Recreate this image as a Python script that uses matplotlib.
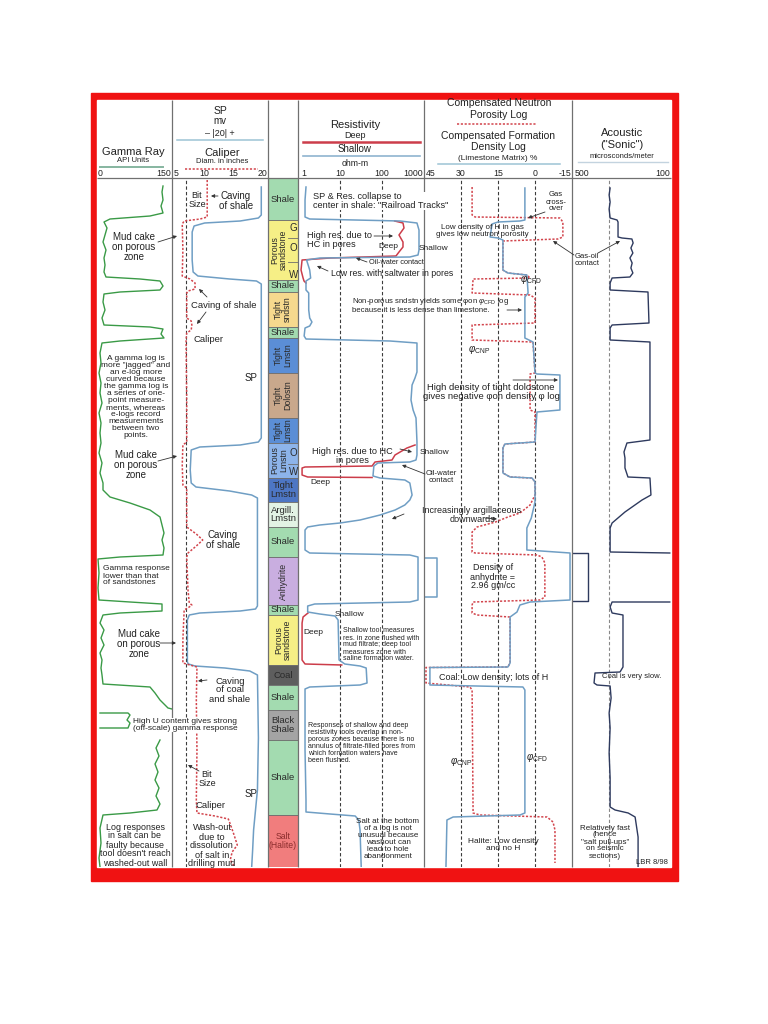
import numpy as np
import matplotlib.pyplot as plt
from matplotlib.patches import Rectangle

plt.rcParams['font.family'] = ['Liberation Sans', 'DejaVu Sans']
plt.rcParams['mathtext.fontset'] = 'custom'
plt.rcParams['mathtext.rm'] = 'Liberation Sans'
plt.rcParams['mathtext.it'] = 'Liberation Sans:italic'

nan = np.nan

# ---------------- data (depth = ft below top of logged interval) ----------------
lith_top = [0, 42, 102, 114, 149, 160, 195, 240, 265, 300, 324, 349, 379, 427, 437, 487, 507, 532, 562, 637]
lith_base = [42, 102, 114, 149, 160, 195, 240, 265, 300, 324, 349, 379, 427, 437, 487, 507, 532, 562, 637, 689]
lith_name = ['Shale', 'Porous\nsandstone', 'Shale', 'Tight\nsndstn', 'Shale', 'Tight\nLmstn',
             'Tight\nDolostn', 'Tight\nLmstn', 'Porous\nLmstn', 'Tight\nLmstn', 'Argill.\nLmstn',
             'Shale', 'Anhydrite', 'Shale', 'Porous\nsandstone', 'Coal', 'Shale', 'Black\nShale',
             'Shale', 'Salt\n(Halite)']
lith_color = ['#a3dbb0', '#f6ef86', '#a3dbb0', '#f6d98e', '#a3dbb0', '#5b8ed6', '#c9a88c',
              '#5b8ed6', '#8db4ea', '#4d76c4', '#e3f3e5', '#a3dbb0', '#c9aee0', '#a3dbb0',
              '#f6ef86', '#5e5e5e', '#a3dbb0', '#a4a4a4', '#a3dbb0', '#f17d7d']
lith_rot = [0, 90, 0, 90, 0, 90, 90, 90, 90, 0, 0, 0, 90, 0, 90, 0, 0, 0, 0, 0]
fluid_depth = [50, 70, 97, 275, 294]
fluid_label = ['G', 'O', 'W', 'O', 'W']
contact_depth = [60, 84, 286]

# gamma ray, API
gr_depth = [8, 14, 22, 28, 35, 38, 41, 44, 50, 57, 64, 72, 80, 87, 94, 99, 101, 103, 108, 112,
            114, 116, 124, 132, 140, 147, 149, 151, 156, 160, 163, 165, 175, 185, 195, 205, 215,
            225, 235, 245, 255, 265, 275, 285, 295, 305, 312, 319, 325, 332, 339, 347, 355, 362,
            370, 377, 379, 381, 395, 410, 422, 424, 426, 433, 435, 437, 445, 452, 460, 467, 475,
            482, 490, 497, 506, 509, 515, 522, 530, 531, nan, 535, 535, 537, 542, 545, 550, 550,
            nan, 562, 570, 578, 586, 594, 602, 610, 618, 626, 632, 635, 637, 650, 665, 680, 689]
gr_api = [132, 130, 132, 128, 132, 106, 26, 14, 20, 16, 12, 18, 14, 16, 14, 18, 86, 126, 132, 126,
          46, 14, 12, 16, 10, 14, 106, 132, 128, 134, 46, 10, 6, 8, 4, 8, 6,
          10, 4, 8, 6, 8, 4, 10, 6, 12, 12, 26, 66, 106, 126, 130, 134, 130,
          134, 132, 46, 2, 4, 2, 4, 66, 130, 130, 46, 12, 6, 14, 8, 14, 6,
          10, 8, 10, 12, 106, 116, 126, 142, 150, nan, 6, 62, 66, 60, 66, 62, 6,
          nan, 126, 118, 124, 116, 122, 116, 124, 118, 126, 120, 66, 12, 6, 8, 4, 6]

# spontaneous potential, mV
sp_depth = [9, 37, 40, 43, 45, 48, 54, 82, 94, 98, 101, 103, 106, 260, 264, 267, 269, 272, 292,
            305, 309, 313, 317, 320, 428, 431, 433, 435, 437, 442, 484, 486, 488, 490, 493, 497,
            560, 612, 632, 652, 672, 689]
sp_mv = [-7, -7, -10, -29, -66, -77, -79, -79, -78, -73, -40, -12, -7, -7, -10, -29, -71, -80, -81,
         -80, -75, -40, -17, -11, -11, -13, -29, -71, -82, -84, -84, -83, -76, -45, -19, -11,
         -10, -11, -13, -15, -16, -17]

# caliper, inches
cal_depth = [2, 39, 41, 43, 46, 72, 98, 101, 105, 111, 113, 115, 140, 143, 147, 152, 155, 162, 222,
             264, 267, 287, 307, 310, 349, 356, 362, 368, 375, 379, 412, 425, 427, 429, 432, 462,
             485, 487, 489, 522, 572, 622, 635, 638, 641, 646, 657, 667, 674, 682, 689]
cal_in = [10.5, 10.5, 9.4, 6.9, 6.6, 6.7, 6.6, 7.8, 8.6, 8.6, 7.5, 7.3, 7.3, 8.0, 8.1, 8.0, 7.3, 7.2, 7.3,
          7.3, 6.7, 6.6, 6.7, 7.3, 7.3, 8.8, 9.8, 8.8, 7.5, 7.3, 7.5, 7.7, 8.1, 7.7, 6.9, 6.7,
          6.7, 7.8, 8.9, 8.8, 8.9, 8.8, 8.9, 11.7, 13.8, 14.1, 14.7, 15.2, 14.4, 14.1, 14.8]
bit_size = 7.2

# shallow resistivity, ohm-m
rs_depth = [9, 22, 39, 41, 43, 45, 52, 72, 77, 79, 80, 82, 92, 100, 103, 112, 115, 132, 140, 144,
            148, 150, 158, 161, 163, 165, 194, 200, 207, 222, 232, 240, 264, 277, 282, 284, 285,
            288, 298, 300, 302, 305, 317, 322, 327, 332, 337, 342, 345, 347, 349, 352, 372, 375,
            377, 379, 422, 424, 426, 428, 434, 436, 438, 442, 482, 486, 488, 490, 505, 507, 509,
            511, 572, 622, 634, 636, 638, 642, 652, 689]
rs_ohm = [1.55, 1.47, 1.47, 1.9, 270, 680, 760, 760, 720, 460, 3.3, 1.6, 1.9, 2.0, 1.55, 1.55, 1.8,
          1.8, 1.9, 2.15, 1.9, 1.47, 1.4, 1.55, 155, 680, 680, 610, 520, 490, 550, 645, 680, 680,
          645, 460, 80, 64, 61, 90, 350, 460, 520, 460, 350, 205, 90, 30, 10, 3.3, 1.7, 1.47,
          1.47, 1.9, 460, 720, 720, 460, 2.5, 1.7, 1.7, 3.3, 7.6, 9.0, 9.5, 13, 30, 42, 44, 30,
          1.9, 1.47, 1.47, 1.55, 1.55, 5.8, 23, 28, 30, 32]

# deep resistivity (only where it separates from shallow), ohm-m
rd_depth = [43, 45, 50, 57, 64, 69, 74, 78, 80, 82, 92, 100, 103, 105, nan,
            267, 270, 277, 282, 284, 288, 289, 290, 297, 299, 299.5, nan,
            435, 439, 445, 482, 486, 487]
rd_ohm = [200, 316, 334, 254, 316, 316, 254, 215, 5.8, 1.25, 1.18, 1.32, 1.39, 1.55, nan,
          611, 393, 204, 173, 68, 58, 1.47, 1.25, 1.25, 1.7, 58, nan,
          1.73, 1.32, 1.25, 1.25, 1.47, 11]

# density porosity (limestone matrix), %
den_depth = [10, 42, 43, 44, 46, 59, 60, 62, 92, 95, 97, 115, 119, 160, 164, 195, 196, 197, 232,
             234, 264, 265, 266, 270, 295, 299, 300, 304, 324, 340, 350, 372, 375, 422, 424, 427,
             434, 439, 485, 489, 489.5, 507, 509, 512, 635, 637, 639, 642, 689]
den_phi = [4.1, 4.1, 6.1, 15, 17.4, 18.2, 15, 13, 13, 11, 3.3, 2.8, 4.1, 4.1, 0.8, 0, -0.8, -10.1,
           -10.1, -0.8, 0, 6.1, 12.2, 13, 13, 10.1, 1.2, 0, 0, 1.5, 3.3, 3.3, -14.2, -14.2, 2,
           6.1, 7.3, 10.1, 10.1, 11, 42.6, 42.6, 4.9, 4.1, 4.1, 6.1, 33.2, 35.7, 36.1]
den_wrap_depth = [380, 380, 419, 419]
den_wrap_phi = [45, 39.7, 39.7, 45]

# neutron porosity (limestone matrix), %
neu_depth = [9, 37, 39, 40, 44, 59, 61, 62, 63, 92, 95, 97, 100, 101, 115, 117, 120, 145, 147,
             162, 164, 195, 196, 232, 234, 264, 265, 266, 270, 295, 299, 300, 304, 317, 327,
             335, 339, 344, 349, 354, 374, 375, 377, 379, 385, 419, 422, 424, 427, 435, 437,
             439, 485, 489, 489.5, 505, 509, 512, 635, 637, 639, 644, 652, 685]
neu_phi = [25.5, 25.5, 24.3, -10.1, -11.3, -11.3, -9.3, 2, 13, 13, 11, 3.3, 2, 25.1, 25.5, 2, 0,
           0, 25.5, 25.5, 0.8, 0, 2, 2, 0, 0, 6, 12.2, 13, 13, 10.1, 1.2, 0, 0, 2,
           6.1, 11, 16, 23.5, 25.5, 25.5, 24.3, -0.8, -2.8, -4, -4, -2, 25.1, 25.5, 25.5, 23.5,
           10.1, 10.1, 11, 44.2, 44.2, 26.4, 25.5, 25.1, 22.3, -4.9, -7.3, -8.1, -8.1]

# sonic transit time, microseconds/m
dt_depth = [10, 17, 24, 31, 40, 42, 44, 59, 60, 61, 65, 70, 75, 80, 85, 90, 95, 99, 100, 105,
            112, 114, 145, 147, 150, 162, 164, 262, 265, 274, 280, 290, 299, 300, 317, 322, 334,
            345, 350, 374, 375, nan, 424, 424, 429, 435, 437, 489, 494, 495, 505, 507, 508, 520,
            535, 550, 575, 600, 620, 629, 632, 635, 639, 659, 689]
dt_us = [346, 350, 346, 350, 346, 318, 314, 314, 298, 258, 253, 262, 254, 266, 257, 262, 254, 266,
         338, 346, 346, 193, 189, 338, 346, 346, 185, 185, 278, 290, 286, 286, 274, 185, 181,
         217, 286, 338, 346, 346, 105, nan, 105, 338, 346, 338, 294, 294, 306, 407, 411, 399,
         346, 342, 350, 346, 350, 346, 346, 346, 326, 273, 245, 233, 233]
dt_wrap_depth = [375, 375, 423, 423]
dt_wrap_us = [500, 435, 435, 500]

# ---------------- layout ----------------
W, H = 768, 1024
TOP, BOT = 178, 867
DMAX = BOT - TOP

fig = plt.figure(figsize=(W / 100, H / 100), dpi=100)

bg = fig.add_axes([0, 0, 1, 1], zorder=0)
bg.set_xlim(0, W)
bg.set_ylim(H, 0)
bg.axis('off')
bg.add_patch(Rectangle((91, 93), 587, 788, color='#f01212'))
bg.add_patch(Rectangle((97, 100), 574, 767, color='white'))


def track(x0, x1, xlim, log=False):
    ax = fig.add_axes([x0 / W, 1 - BOT / H, (x1 - x0) / W, (BOT - TOP) / H], zorder=2)
    if log:
        ax.set_xscale('log')
    ax.set_xlim(*xlim)
    ax.set_ylim(DMAX, 0)
    ax.axis('off')
    return ax


grid = dict(color='#3c3c3c', lw=0.8, ls=(0, (3, 2)), zorder=1)
dotted_red = dict(color='#d2444c', lw=1.1, ls=(0, (1.4, 1.1)))
blue = '#6f9ec4'

# gamma ray
gr_ax = track(97, 172, (0, 150))
gr_ax.plot(gr_api, gr_depth, color='#3a9a46', lw=1.0)

# SP + caliper
sp_ax = track(172, 268, (-100, 0))
sp_ax.plot(sp_mv, sp_depth, color=blue, lw=1.1)
cal_ax = sp_ax.twiny()
cal_ax.set_xlim(5, 20)
cal_ax.set_ylim(DMAX, 0)
cal_ax.axis('off')
cal_ax.axvline(bit_size, **grid)
cal_ax.plot(cal_in, cal_depth, **dotted_red)

# lithology column
li_ax = track(268, 298, (0, 1))
heights = [b - t for t, b in zip(lith_top, lith_base)]
li_ax.barh(lith_top, 1, height=heights, left=0, align='edge', color=lith_color,
           edgecolor='#6e6e6e', lw=0.6)
for t, b, name, rot, c in zip(lith_top, lith_base, lith_name, lith_rot, lith_color):
    xpos = 0.5
    if rot and name.startswith('Porous') and t < 400:
        xpos = 0.38
    tc = '#8a2c2c' if name.startswith('Salt') else '#2a2a2a'
    fs = 6.8 if rot == 0 else 6.3
    if name.startswith('Salt'):
        fs = 6.2
    li_ax.text(xpos, (t + b) / 2, name, rotation=rot, ha='center', va='center',
               fontsize=fs, color=tc, linespacing=0.95)
for d, lab in zip(fluid_depth, fluid_label):
    li_ax.text(0.84, d, lab, ha='center', va='center', fontsize=7, color='#2a2a2a')
for d in contact_depth:
    li_ax.plot([0.68, 1.0], [d, d], color='#6e6e6e', lw=0.6)

# resistivity
res_ax = track(298, 424, (1, 1000), log=True)
for v in (10, 100):
    res_ax.axvline(v, **grid)
res_ax.plot(rd_ohm, rd_depth, color='#cc3d4a', lw=1.1)
res_ax.plot(rs_ohm, rs_depth, color=blue, lw=1.1)

# neutron / density
nd_ax = track(424, 572, (45, -15))
for v in (30, 15, 0):
    nd_ax.axvline(v, **grid)
nd_ax.plot(neu_phi, neu_depth, **dotted_red)
nd_ax.plot(den_phi, den_depth, color=blue, lw=1.1)
nd_ax.plot(den_wrap_phi, den_wrap_depth, color=blue, lw=1.1)

# sonic
so_ax = track(572, 671, (500, 100))
so_ax.axvline(350, color='#888888', lw=0.8, ls=(0, (3, 2)), zorder=1)
so_ax.plot(dt_us, dt_depth, color='#2e3a5e', lw=1.0)
so_ax.plot(dt_wrap_us, dt_wrap_depth, color='#2e3a5e', lw=1.0)

# ---------------- overlay: borders, header, notes ----------------
ov = fig.add_axes([0, 0, 1, 1], zorder=5)
ov.set_xlim(0, W)
ov.set_ylim(H, 0)
ov.axis('off')
ov.patch.set_visible(False)

ov.vlines([172, 268, 298, 424, 572], 100, BOT, color='#707070', lw=0.9)
ov.hlines(TOP - 0.5, 97, 671, color='#707070', lw=0.9)


def t(x, y, s, fs=7.5, ha='center', **kw):
    ov.text(x, y, s, fontsize=fs, ha=ha, va='center', color='#222222', linespacing=1.0, **kw)


# header
t(133, 152, 'Gamma Ray', 8)
t(133, 160.5, 'API Units', 5.5)
ov.plot([100, 163], [167, 167], color='#86b5a0', lw=1.4)
t(98, 174, '0', 6.3, 'left')
t(171, 174, '150', 6.3, 'right')

t(220, 110.5, 'SP', 7.5)
t(220, 121.5, 'mv', 7)
t(220, 133, '– |20| +', 6.5)
ov.plot([177, 263], [139.5, 139.5], color='#9cc3d5', lw=1.1)
t(222, 152.5, 'Caliper', 8)
t(222, 161.5, 'Diam. in inches', 5.5)
ov.plot([185, 258], [169, 169], **dotted_red)
t(174, 174, '5', 6.3, 'left')
t(204, 174, '10', 6.3)
t(233, 174, '15', 6.3)
t(267, 174, '20', 6.3, 'right')

t(355, 125, 'Resistivity', 8)
t(355, 135.5, 'Deep', 6.5)
ov.plot([303, 420], [142, 142], color='#cc3d4a', lw=1.8)
t(355, 149, 'Shallow', 7)
ov.plot([303, 420], [155.5, 155.5], color='#8fb4cf', lw=1.2)
t(355, 164, 'ohm-m', 6.3)
t(301, 174, '1', 6.3, 'left')
t(340, 174, '10', 6.3)
t(382, 174, '100', 6.3)
t(423, 174, '1000', 6.3, 'right')

t(499, 103, 'Compensated Neutron', 7.5)
t(499, 115.5, 'Porosity Log', 7.5)
ov.plot([457, 537], [124, 124], **dotted_red)
t(498, 136, 'Compensated Formation', 7.5)
t(498, 147.5, 'Density Log', 7.5)
t(498, 158.5, '(Limestone Matrix) %', 6)
ov.plot([438, 560], [164, 164], color='#9cc3d5', lw=1.1)
t(426, 174, '45', 6.3, 'left')
t(461, 174, '30', 6.3)
t(498, 174, '15', 6.3)
t(535, 174, '0', 6.3)
t(571, 174, '-15', 6.3, 'right')

t(622, 133, 'Acoustic', 8)
t(622, 144.5, '("Sonic")', 8)
t(622, 156.5, 'microsconds/meter', 5.5)
ov.plot([578, 668], [162, 162], color='#c3d3df', lw=1.0)
t(575, 174, '500', 6.3, 'left')
t(670, 174, '100', 6.3, 'right')

# notes
white = dict(facecolor='white', edgecolor='none', pad=0.3)
notes = [
    (134, 247, 'Mud cake\non porous\nzone', 7, 'center'),
    (136, 397, 'A gamma log is\nmore "jagged" and\nan e-log more\ncurved because\nthe gamma log is\n'
               'a series of one-\npoint measure-\nments, whereas\ne-logs record\nmeasurements\n'
               'between two\npoints.', 6.0, 'center'),
    (136, 465, 'Mud cake\non porous\nzone', 7, 'center'),
    (103, 576, 'Gamma response\nlower than that\nof sandstones', 6.0, 'left'),
    (139, 644, 'Mud cake\non porous\nzone', 7, 'center'),
    (135, 845, "Log responses\nin salt can be\nfaulty because\ntool doesn't reach\nwashed-out wall", 6.4, 'center'),
    (197, 200, 'Bit\nSize', 6.5, 'center'),
    (236, 201, 'Caving\nof shale', 7, 'center'),
    (224, 305, 'Caving of shale', 6.8, 'center'),
    (208, 340, 'Caliper', 6.8, 'center'),
    (251, 378, 'SP', 7, 'center'),
    (223, 540, 'Caving\nof shale', 7, 'center'),
    (230, 690, 'Caving\nof coal\nand shale', 6.8, 'center'),
    (207, 779, 'Bit\nSize', 6.5, 'center'),
    (251, 794, 'SP', 7, 'center'),
    (211, 805, 'Caliper', 6.8, 'center'),
    (212, 846, 'Wash-out\ndue to\ndissolution\nof salt in\ndrilling mud', 6.6, 'center'),
    (307, 240, 'High res. due to\nHC in pores', 6.6, 'left'),
    (378, 247, 'Deep', 6, 'left'),
    (419, 248, 'Shallow', 6, 'left'),
    (369, 263, 'Oil-water contact', 5.3, 'left'),
    (331, 273, 'Low res. with saltwater in pores', 6.3, 'left'),
    (352, 305, 'Non-porous sndstn yields some φon $φ_{\\rm CFD}$ log\nbecause it is less dense than limestone.',
     5.6, 'left'),
    (352, 456, 'High res. due to HC\nin pores', 6.6, 'center'),
    (420, 453, 'Shallow', 6, 'left'),
    (441, 477, 'Oil-water\ncontact', 5.6, 'center'),
    (310, 482, 'Deep', 6, 'left'),
    (472, 515, 'Increasingly argillaceous\ndownwards', 6.5, 'center'),
    (335, 614, 'Shallow', 6, 'left'),
    (303, 632, 'Deep', 6, 'left'),
    (343, 645, 'Shallow tool measures\nres. in zone flushed with\nmud filtrate; deep tool\n'
               'measures zone with\nsaline formation water.', 5, 'left'),
    (308, 743, 'Responses of shallow and deep\nresistivity tools overlap in non-\nporous zones because there is no\n'
               'annulus of filtrate-filled pores from\nwhich formation waters have\nbeen flushed.', 5, 'left'),
    (388, 839, 'Salt at the bottom\nof a log is not\nunusual because\nwashout can\nlead to hole\nabandonment',
     5.8, 'center'),
    (556, 202, 'Gas\ncross-\nover', 5.5, 'center'),
    (482, 231, 'Low density of H in gas\ngives low neutron porosity', 5.8, 'center'),
    (531, 279, '$φ_{\\rm CFD}$', 7, 'center'),
    (479, 349, '$φ_{\\rm CNP}$', 7, 'center'),
    (491, 392, 'High density of tight dolostone\ngives negative φon density φ log', 6.8, 'center'),
    (493, 577, 'Density of\nanhydrite =\n2.96 gm/cc', 6.5, 'center'),
    (494, 677, 'Coal: Low density; lots of H', 6.5, 'center'),
    (461, 761, '$φ_{\\rm CNP}$', 7, 'center'),
    (537, 757, '$φ_{\\rm CFD}$', 7, 'center'),
    (503, 845, 'Halite: Low density\nand no H', 6, 'center'),
    (587, 260, 'Gas-oil\ncontact', 5.5, 'center'),
    (632, 676, 'Coal is very slow.', 5.5, 'center'),
    (605, 842, 'Relatively fast\n(hence\n"salt pull-ups"\non seismic\nsections)', 5.8, 'center'),
    (652, 862, 'LBR 8/98', 5.5, 'center'),
]
for x, y, s, fs, ha in notes:
    t(x, y, s, fs, ha)

t(313, 201, 'SP & Res. collapse to\ncenter in shale: "Railroad Tracks"', 6.6, 'left', bbox=white)
t(185, 725, 'High U content gives strong\n(off-scale) gamma response', 6.0, 'center', bbox=white)

arrows = [
    (158, 242, 177, 236), (218, 196, 211, 196), (207, 297, 199, 289), (206, 312, 197, 324),
    (158, 461, 177, 456), (160, 643, 176, 643), (207, 680, 198, 681), (199, 771, 188, 765),
    (374, 236, 393, 236), (367, 262, 356, 258), (328, 271, 317, 266), (507, 310, 522, 310),
    (400, 449, 412, 452), (425, 474, 402, 465), (404, 514, 392, 519), (485, 518, 497, 519),
    (545, 212, 528, 218), (574, 255, 553, 241), (598, 253, 620, 241), (513, 380, 558, 380),
]
for x0, y0, x1, y1 in arrows:
    ov.annotate('', xy=(x1, y1), xytext=(x0, y0),
                arrowprops=dict(arrowstyle='-|>', lw=0.6, color='#333333', mutation_scale=5,
                                shrinkA=0, shrinkB=0))

fig.savefig('out.png', dpi=100)
